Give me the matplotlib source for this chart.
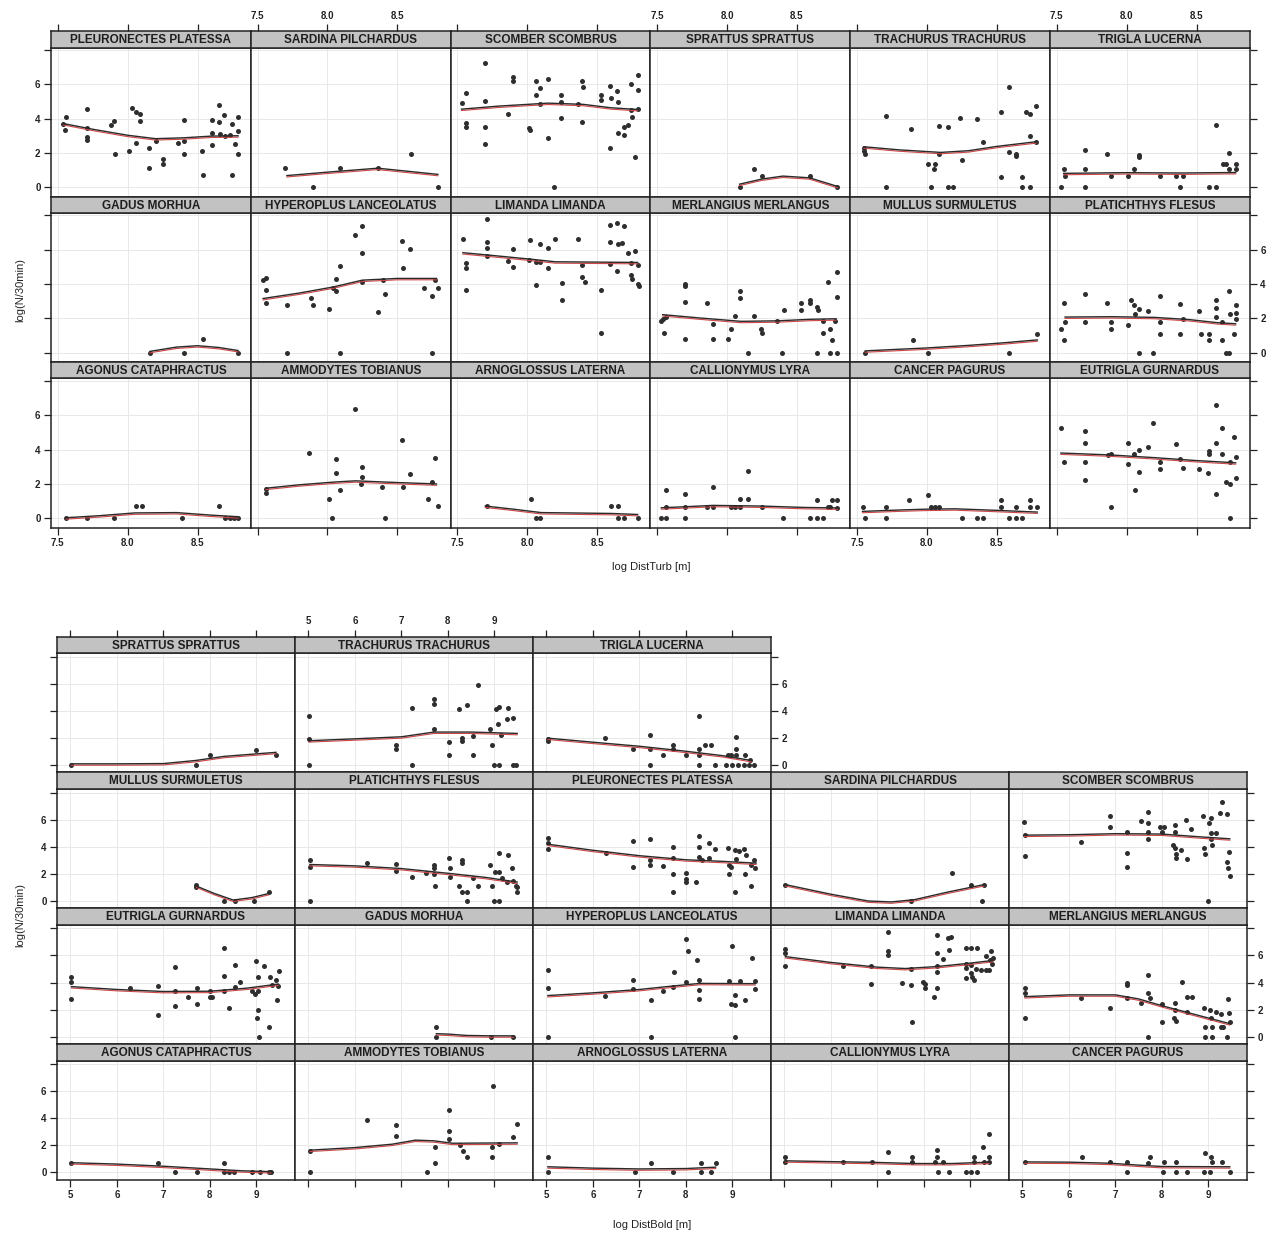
import numpy as np
import matplotlib
matplotlib.use('Agg')
import matplotlib.pyplot as plt
import matplotlib.transforms as mtransforms

plt.rcParams['font.family'] = ['Liberation Sans', 'DejaVu Sans']

# species names (strip labels)
names = {
    'ago': 'AGONUS CATAPHRACTUS', 'amm': 'AMMODYTES TOBIANUS', 'arn': 'ARNOGLOSSUS LATERNA',
    'cal': 'CALLIONYMUS LYRA', 'can': 'CANCER PAGURUS', 'eut': 'EUTRIGLA GURNARDUS',
    'gad': 'GADUS MORHUA', 'hyp': 'HYPEROPLUS LANCEOLATUS', 'lim': 'LIMANDA LIMANDA',
    'mer': 'MERLANGIUS MERLANGUS', 'mul': 'MULLUS SURMULETUS', 'pla': 'PLATICHTHYS FLESUS',
    'ple': 'PLEURONECTES PLATESSA', 'sar': 'SARDINA PILCHARDUS', 'sco': 'SCOMBER SCOMBRUS',
    'spr': 'SPRATTUS SPRATTUS', 'tra': 'TRACHURUS TRACHURUS', 'tri': 'TRIGLA LUCERNA',
}

# panel layouts, top row first
turb_rows = [['ple', 'sar', 'sco', 'spr', 'tra', 'tri'],
             ['gad', 'hyp', 'lim', 'mer', 'mul', 'pla'],
             ['ago', 'amm', 'arn', 'cal', 'can', 'eut']]
bold_rows = [['spr', 'tra', 'tri'],
             ['mul', 'pla', 'ple', 'sar', 'sco'],
             ['eut', 'gad', 'hyp', 'lim', 'mer'],
             ['ago', 'amm', 'arn', 'cal', 'can']]

turb_xticks = [7.5, 8.0, 8.5]
turb_xlabels = ['7.5', '8.0', '8.5']
bold_xticks = [5, 6, 7, 8, 9]
bold_xlabels = ['5', '6', '7', '8', '9']
yticks = [0, 2, 4, 6, 8]
ylabels = ['0', '2', '4', '6', '']

# ---------------- log DistTurb panels: (x, log N) points and smoother
turb_ple_pts = [(7.54,3.69),(7.56,4.08),(7.55,3.34),(7.71,4.56),(7.71,3.46),(7.71,2.95),(7.71,2.78),(7.88,3.65),(7.90,3.84),(7.91,1.94),(8.01,2.10),(8.03,4.62),(8.06,4.41),(8.06,2.56),(8.09,4.25),(8.09,3.83),(8.15,2.29),(8.15,1.13),(8.20,2.72),(8.25,1.63),(8.25,1.36),(8.36,2.56),(8.40,3.94),(8.40,2.68),(8.40,1.94),(8.53,2.10),(8.54,0.70),(8.60,2.48),(8.60,3.92),(8.60,3.18),(8.65,3.81),(8.65,4.80),(8.66,3.11),(8.69,4.21),(8.70,2.99),(8.73,3.03),(8.75,3.69),(8.75,0.70),(8.77,2.52),(8.79,4.08),(8.79,3.30),(8.79,1.94)]
turb_ple_fit = [(7.54,3.68),(7.75,3.35),(8.0,3.0),(8.2,2.8),(8.4,2.85),(8.6,2.95),(8.79,2.97)]
turb_sar_pts = [(7.70,1.11),(7.90,0.0),(8.09,1.13),(8.36,1.13),(8.60,1.94),(8.79,0.0)]
turb_sar_fit = [(7.71,0.65),(8.0,0.85),(8.36,1.08),(8.6,0.88),(8.79,0.72)]
turb_sco_pts = [(7.53,4.89),(7.56,5.51),(7.56,3.75),(7.56,3.53),(7.70,7.22),(7.70,5.03),(7.70,3.53),(7.70,2.49),(7.86,4.27),(7.90,6.45),(7.90,6.21),(8.01,3.44),(8.02,3.34),(8.06,6.16),(8.06,5.38),(8.09,5.79),(8.09,4.83),(8.15,6.31),(8.15,2.87),(8.19,0.0),(8.24,5.36),(8.24,4.97),(8.24,4.04),(8.36,4.83),(8.39,6.16),(8.40,5.83),(8.39,3.81),(8.53,5.36),(8.53,5.09),(8.59,5.88),(8.60,5.19),(8.59,2.27),(8.64,5.61),(8.65,4.97),(8.65,3.15),(8.69,3.53),(8.69,3.03),(8.72,3.65),(8.74,6.02),(8.74,4.47),(8.75,4.08),(8.77,1.77),(8.79,6.52),(8.79,5.67),(8.79,4.54)]
turb_sco_fit = [(7.53,4.52),(7.8,4.7),(8.15,4.87),(8.4,4.8),(8.6,4.6),(8.79,4.5)]
turb_spr_pts = [(8.09,0.0),(8.19,1.07),(8.25,0.66),(8.59,0.66),(8.79,0.0)]
turb_spr_fit = [(8.09,0.15),(8.25,0.45),(8.4,0.62),(8.59,0.52),(8.79,0.02)]
turb_tra_pts = [(7.55,2.29),(7.56,1.94),(7.55,2.10),(7.71,4.16),(7.71,0.0),(7.89,3.40),(8.01,1.36),(8.06,1.36),(8.05,1.07),(8.03,0.0),(8.09,3.57),(8.09,1.94),(8.15,3.50),(8.15,0.0),(8.19,0.0),(8.24,4.04),(8.25,1.59),(8.36,4.0),(8.40,2.62),(8.53,4.37),(8.53,0.62),(8.59,5.86),(8.59,2.08),(8.64,1.94),(8.64,1.80),(8.68,0.62),(8.68,0.0),(8.71,4.39),(8.74,4.25),(8.74,3.01),(8.74,0.0),(8.78,4.76),(8.78,2.62)]
turb_tra_fit = [(7.55,2.33),(7.8,2.15),(8.1,2.0),(8.3,2.1),(8.5,2.35),(8.78,2.62)]
turb_tri_pts = [(7.53,0.0),(7.55,1.07),(7.56,0.64),(7.70,2.14),(7.70,1.07),(7.70,0.0),(7.86,1.92),(7.89,0.64),(8.01,0.64),(8.05,1.07),(8.09,1.90),(8.09,1.75),(8.24,0.64),(8.35,0.64),(8.38,0.0),(8.40,0.64),(8.59,0.0),(8.64,0.0),(8.64,3.65),(8.69,1.36),(8.71,1.36),(8.73,2.0),(8.73,1.07),(8.78,1.36),(8.78,1.07)]
turb_tri_fit = [(7.55,0.78),(8.0,0.82),(8.4,0.80),(8.78,0.83)]
turb_gad_pts = [(8.16,0.0),(8.40,0.0),(8.54,0.78),(8.79,0.0)]
turb_gad_fit = [(8.16,0.05),(8.35,0.3),(8.5,0.38),(8.65,0.28),(8.79,0.1)]
turb_hyp_pts = [(7.54,4.26),(7.56,4.34),(7.56,3.63),(7.56,2.89),(7.71,2.77),(7.71,0.0),(7.88,3.16),(7.90,2.77),(8.01,2.54),(8.04,3.75),(8.06,3.61),(8.06,4.30),(8.09,5.08),(8.09,0.0),(8.20,6.88),(8.25,7.38),(8.25,5.82),(8.25,4.14),(8.36,2.40),(8.40,4.26),(8.41,3.44),(8.53,6.48),(8.54,4.92),(8.59,6.02),(8.69,3.75),(8.75,3.28),(8.75,0.0),(8.77,4.26),(8.79,3.75)]
turb_hyp_fit = [(7.54,3.13),(7.8,3.45),(8.04,3.8),(8.25,4.2),(8.5,4.3),(8.78,4.3)]
turb_lim_pts = [(7.54,6.60),(7.56,5.23),(7.56,4.92),(7.56,3.67),(7.71,7.81),(7.71,6.45),(7.71,6.09),(7.71,5.66),(7.86,5.37),(7.90,6.02),(7.90,4.98),(8.01,5.39),(8.02,6.54),(8.06,5.27),(8.06,3.95),(8.09,6.35),(8.09,5.27),(8.15,6.09),(8.15,4.92),(8.20,6.60),(8.25,4.06),(8.25,3.09),(8.36,6.60),(8.39,5.12),(8.39,4.41),(8.41,4.14),(8.53,3.67),(8.53,1.17),(8.59,7.46),(8.59,6.45),(8.59,5.18),(8.64,7.56),(8.64,4.79),(8.65,6.31),(8.69,7.36),(8.68,6.39),(8.72,5.82),(8.74,5.21),(8.74,4.53),(8.75,4.30),(8.77,5.90),(8.79,5.12),(8.79,4.0),(8.80,3.91)]
turb_lim_fit = [(7.54,5.8),(7.8,5.6),(8.05,5.4),(8.2,5.27),(8.5,5.25),(8.79,5.23)]
turb_mer_pts = [(7.53,1.84),(7.54,1.99),(7.56,2.09),(7.55,1.17),(7.70,4.0),(7.70,3.87),(7.70,2.97),(7.70,0.78),(7.86,2.89),(7.90,1.66),(7.90,0.78),(8.01,0.78),(8.03,1.41),(8.06,2.15),(8.09,3.61),(8.09,3.18),(8.15,0.0),(8.19,2.15),(8.24,1.41),(8.25,1.13),(8.36,1.86),(8.39,0.0),(8.41,2.48),(8.53,2.87),(8.53,2.50),(8.59,3.07),(8.59,2.89),(8.64,2.64),(8.65,2.50),(8.64,0.0),(8.69,1.86),(8.69,1.13),(8.72,4.14),(8.74,1.41),(8.75,0.74),(8.74,0.0),(8.77,1.86),(8.79,4.69),(8.79,3.22),(8.79,0.0)]
turb_mer_fit = [(7.54,2.19),(7.8,2.0),(8.1,1.8),(8.36,1.83),(8.6,1.92),(8.78,1.95)]
turb_mul_pts = [(7.56,0.0),(7.90,0.72),(8.01,0.0),(8.59,0.0),(8.79,1.11)]
turb_mul_fit = [(7.56,0.08),(8.0,0.25),(8.3,0.4),(8.55,0.55),(8.79,0.72)]
turb_pla_pts = [(7.53,1.37),(7.55,2.89),(7.55,0.72),(7.56,1.80),(7.70,3.42),(7.70,1.80),(7.86,2.89),(7.89,1.80),(7.89,1.37),(8.01,1.60),(8.03,3.09),(8.05,2.77),(8.06,2.25),(8.09,2.54),(8.09,0.0),(8.15,2.44),(8.19,0.0),(8.24,3.28),(8.24,1.80),(8.24,1.11),(8.38,2.83),(8.38,1.11),(8.40,1.95),(8.52,2.44),(8.53,1.11),(8.59,1.11),(8.59,0.72),(8.64,3.09),(8.64,2.60),(8.64,2.11),(8.68,1.80),(8.68,0.72),(8.71,0.0),(8.73,0.0),(8.73,3.57),(8.74,2.25),(8.77,1.11),(8.78,2.77),(8.78,2.34),(8.78,1.95)]
turb_pla_fit = [(7.56,2.05),(7.9,2.07),(8.2,2.03),(8.45,1.9),(8.65,1.72),(8.78,1.66)]
turb_ago_pts = [(7.56,0.0),(7.71,0.0),(7.90,0.0),(8.06,0.72),(8.10,0.72),(8.39,0.0),(8.65,0.72),(8.70,0.0),(8.73,0.0),(8.76,0.0),(8.79,0.0)]
turb_ago_fit = [(7.56,0.0),(7.8,0.12),(8.05,0.28),(8.35,0.3),(8.6,0.15),(8.79,0.06)]
turb_amm_pts = [(7.56,1.68),(7.56,1.45),(7.87,3.81),(8.01,1.10),(8.03,0.0),(8.06,3.43),(8.06,2.61),(8.09,1.65),(8.20,6.37),(8.25,3.0),(8.25,2.42),(8.24,1.97),(8.39,1.84),(8.41,0.0),(8.53,4.55),(8.54,1.84),(8.59,2.55),(8.72,1.10),(8.75,2.11),(8.77,3.52),(8.79,0.72)]
turb_amm_fit = [(7.56,1.72),(7.8,1.92),(8.05,2.08),(8.2,2.15),(8.5,2.05),(8.78,1.97)]
turb_arn_pts = [(7.71,0.72),(8.03,1.10),(8.06,0.0),(8.09,0.0),(8.60,0.72),(8.65,0.72),(8.65,0.0),(8.69,0.0),(8.79,0.0)]
turb_arn_fit = [(7.7,0.68),(7.9,0.5),(8.1,0.3),(8.4,0.27),(8.6,0.25),(8.79,0.19)]
turb_cal_pts = [(7.53,0.0),(7.56,0.0),(7.56,0.68),(7.56,1.63),(7.70,1.39),(7.70,0.68),(7.70,0.0),(7.86,0.68),(7.90,0.68),(7.90,1.82),(8.03,0.68),(8.06,0.68),(8.09,0.68),(8.09,1.10),(8.15,2.75),(8.15,1.10),(8.25,0.68),(8.40,0.0),(8.59,0.0),(8.64,1.06),(8.64,0.0),(8.69,0.0),(8.72,0.68),(8.74,0.68),(8.75,1.06),(8.79,1.06),(8.79,0.62)]
turb_cal_fit = [(7.53,0.58),(7.75,0.66),(7.9,0.72),(8.25,0.68),(8.55,0.6),(8.79,0.57)]
turb_can_pts = [(7.54,0.66),(7.56,0.0),(7.71,0.66),(7.71,0.0),(7.87,1.06),(8.01,1.35),(8.03,0.66),(8.06,0.66),(8.09,0.66),(8.25,0.0),(8.36,0.0),(8.40,0.0),(8.53,0.66),(8.53,1.06),(8.59,0.0),(8.64,0.66),(8.64,0.0),(8.68,0.0),(8.74,1.06),(8.74,0.66),(8.79,0.66)]
turb_can_fit = [(7.54,0.37),(7.8,0.45),(8.0,0.5),(8.2,0.52),(8.5,0.43),(8.79,0.33)]
turb_eut_pts = [(7.53,5.23),(7.55,3.29),(7.70,5.11),(7.70,4.39),(7.70,3.29),(7.70,2.21),(7.87,3.68),(7.89,3.77),(7.89,0.68),(8.01,4.39),(8.01,3.15),(8.05,3.72),(8.06,1.65),(8.09,4.0),(8.09,2.71),(8.15,4.16),(8.19,5.57),(8.24,3.29),(8.24,2.85),(8.35,4.35),(8.38,3.44),(8.40,2.94),(8.52,2.86),(8.59,3.91),(8.59,3.72),(8.58,2.61),(8.64,6.58),(8.64,4.39),(8.64,1.39),(8.68,5.23),(8.68,3.72),(8.71,2.09),(8.74,1.97),(8.74,3.29),(8.74,0.0),(8.77,4.74),(8.78,3.58),(8.78,2.36)]
turb_eut_fit = [(7.53,3.77),(7.88,3.66),(8.2,3.5),(8.5,3.33),(8.78,3.2)]

# ---------------- log DistBold panels
bold_spr_pts = [(5.02,0.0),(7.71,0.0),(8.0,0.73),(8.99,1.10),(9.42,0.73)]
bold_spr_fit = [(5.02,0.05),(6.0,0.05),(7.0,0.07),(7.7,0.3),(8.3,0.6),(9.42,0.9)]
bold_tra_pts = [(5.01,3.63),(5.01,1.95),(5.01,0.0),(6.88,1.51),(6.88,1.15),(7.22,4.24),(7.22,0.0),(7.71,4.85),(7.71,4.49),(7.71,2.68),(8.03,1.68),(8.03,0.73),(8.24,4.15),(8.30,2.0),(8.30,1.80),(8.40,4.44),(8.53,2.12),(8.53,0.73),(8.64,5.90),(8.90,2.68),(8.94,1.46),(8.99,0.0),(9.10,0.0),(9.04,4.15),(9.10,4.32),(9.07,3.02),(9.15,2.24),(9.28,3.41),(9.30,4.20),(9.41,3.51),(9.41,0.0),(9.46,0.0)]
bold_tra_fit = [(5.01,1.76),(6.0,1.9),(7.0,2.05),(7.7,2.4),(8.5,2.4),(9.49,2.3)]
bold_tri_pts = [(5.03,1.95),(5.03,1.80),(6.26,2.0),(6.87,1.15),(7.22,2.20),(7.22,1.15),(7.22,0.0),(7.51,0.73),(7.72,1.46),(7.72,1.15),(8.0,0.73),(8.29,3.63),(8.29,1.15),(8.29,0.73),(8.29,0.0),(8.42,1.46),(8.53,1.46),(8.63,0.0),(8.90,0.73),(8.97,0.73),(9.08,2.05),(9.08,1.15),(9.08,0.73),(8.87,0.0),(9.0,0.0),(9.12,0.0),(9.24,0.0),(9.35,0.0),(9.27,0.73),(9.38,0.34),(9.46,0.0)]
bold_tri_fit = [(5.03,1.95),(6.0,1.65),(7.0,1.35),(8.0,0.98),(8.8,0.65),(9.4,0.3)]
bold_mul_pts = [(7.71,1.17),(7.71,1.0),(8.30,0.0),(8.53,0.0),(8.94,0.0),(9.26,0.63)]
bold_mul_fit = [(7.71,1.05),(8.1,0.5),(8.5,0.02),(8.9,0.2),(9.26,0.5)]
bold_pla_pts = [(5.03,3.0),(5.03,2.51),(5.03,0.0),(6.26,2.83),(6.88,2.71),(6.88,2.20),(7.22,1.78),(7.52,2.02),(7.71,2.63),(7.71,2.39),(7.71,1.95),(7.73,1.12),(8.03,3.17),(8.05,2.39),(8.05,1.78),(8.24,1.12),(8.30,3.0),(8.30,2.76),(8.30,0.63),(8.40,0.0),(8.42,0.63),(8.53,1.71),(8.64,1.12),(8.90,2.68),(8.94,1.12),(8.99,0.0),(9.10,0.0),(9.02,2.10),(9.10,2.15),(9.10,3.56),(9.17,1.71),(9.28,1.41),(9.30,3.37),(9.38,2.39),(9.41,1.46),(9.47,1.12),(9.49,0.63),(9.49,1.05)]
bold_pla_fit = [(5.03,2.65),(6.0,2.55),(7.0,2.35),(8.0,2.0),(8.8,1.7),(9.49,1.35)]
bold_ple_pts = [(5.03,4.63),(5.03,4.29),(5.03,3.80),(6.28,3.56),(6.87,4.39),(6.87,2.51),(7.22,4.54),(7.22,3.0),(7.22,2.63),(7.51,2.59),(7.72,3.98),(7.72,3.17),(7.72,1.95),(7.72,0.63),(8.0,2.02),(8.0,1.61),(8.0,1.41),(8.21,1.37),(8.29,4.76),(8.29,3.98),(8.29,3.24),(8.34,3.0),(8.50,4.29),(8.50,3.17),(8.63,3.85),(8.90,3.90),(8.93,2.63),(8.93,1.95),(8.98,2.51),(9.06,3.73),(9.06,0.63),(9.08,3.12),(9.14,3.66),(9.25,3.85),(9.27,1.95),(9.30,3.37),(9.40,1.12),(9.40,2.63),(9.46,3.0),(9.48,2.39)]
bold_ple_fit = [(5.03,4.15),(6.0,3.7),(7.0,3.3),(8.0,3.0),(8.8,2.88),(9.51,2.75)]
bold_sar_pts = [(5.02,1.16),(7.72,0.0),(8.61,2.02),(9.01,1.16),(9.24,0.0),(9.29,1.16)]
bold_sar_fit = [(5.02,1.16),(6.0,0.45),(6.8,-0.05),(7.3,-0.12),(7.8,0.05),(8.5,0.6),(9.29,1.16)]
bold_sco_pts = [(5.04,5.85),(5.05,4.86),(5.05,3.33),(6.26,4.35),(6.88,6.27),(6.88,5.43),(7.24,5.09),(7.24,3.51),(7.24,2.52),(7.54,5.93),(7.70,6.59),(7.70,5.78),(7.71,5.11),(7.70,4.57),(7.96,5.43),(8.0,5.06),(8.05,5.43),(8.29,5.60),(8.29,5.06),(8.23,4.12),(8.29,3.88),(8.31,3.46),(8.31,3.14),(8.41,3.75),(8.52,5.98),(8.55,3.09),(8.62,5.28),(8.89,6.27),(8.91,3.88),(8.93,3.43),(8.99,0.0),(9.01,5.73),(9.05,6.10),(9.05,4.99),(9.05,4.57),(9.07,4.12),(9.16,5.04),(9.29,7.33),(9.24,6.52),(9.39,6.40),(9.45,3.63),(9.41,2.89),(9.43,2.40),(9.46,1.83)]
bold_sco_fit = [(5.04,4.82),(6.0,4.85),(7.0,4.93),(8.0,4.9),(8.8,4.7),(9.46,4.55)]
bold_eut_pts = [(5.02,4.44),(5.02,4.02),(5.02,2.76),(6.27,3.61),(6.88,3.71),(6.88,1.63),(7.25,5.17),(7.25,3.37),(7.25,2.24),(7.53,2.93),(7.72,3.59),(7.72,2.44),(8.0,3.37),(8.0,2.93),(8.05,2.93),(8.30,6.59),(8.30,4.51),(8.30,3.34),(8.42,2.12),(8.53,5.32),(8.53,3.66),(8.64,4.02),(8.91,3.37),(8.96,3.17),(8.99,5.61),(9.04,4.39),(9.04,3.37),(9.04,1.95),(9.02,1.34),(9.06,0.0),(9.17,5.24),(9.26,0.73),(9.29,4.44),(9.34,3.78),(9.42,4.15),(9.47,3.71),(9.49,4.83),(9.44,2.68)]
bold_eut_fit = [(5.02,3.66),(6.0,3.45),(7.0,3.3),(8.0,3.32),(8.8,3.55),(9.47,3.85)]
bold_gad_pts = [(7.75,0.73),(7.75,0.0),(8.93,0.0),(9.41,0.0)]
bold_gad_fit = [(7.75,0.18),(8.0,0.15),(8.4,0.05),(8.9,0.02),(9.41,0.02)]
bold_hyp_pts = [(5.03,4.93),(5.03,3.59),(5.03,0.0),(6.26,3.0),(6.87,4.15),(6.87,3.54),(7.24,2.68),(7.24,0.0),(7.51,3.34),(7.75,4.76),(7.72,3.66),(8.0,7.20),(8.04,6.34),(8.0,4.02),(8.23,5.66),(8.29,4.15),(8.29,3.46),(8.29,2.80),(8.93,4.10),(8.98,2.44),(9.0,6.71),(9.06,3.10),(9.06,2.32),(9.06,0.0),(9.17,4.10),(9.27,2.68),(9.43,5.85),(9.49,4.10),(9.49,3.54)]
bold_hyp_fit = [(5.03,3.0),(6.0,3.2),(7.0,3.45),(7.7,3.7),(8.3,3.9),(9.49,3.88)]
bold_lim_pts = [(5.02,6.47),(5.02,6.22),(5.02,5.19),(6.26,5.23),(6.86,5.19),(6.86,3.88),(7.22,7.73),(7.22,6.30),(7.22,6.05),(7.53,4.0),(7.72,4.99),(7.72,3.83),(7.74,1.11),(7.99,4.07),(8.02,3.90),(8.02,3.58),(8.22,2.96),(8.29,7.53),(8.29,6.22),(8.29,5.23),(8.29,4.81),(8.29,3.58),(8.40,5.73),(8.51,7.28),(8.58,7.36),(8.53,6.37),(8.91,6.54),(9.01,6.54),(9.15,6.54),(8.90,5.38),(8.90,5.06),(8.91,4.32),(9.01,5.31),(9.01,4.69),(9.04,4.40),(9.08,4.20),(9.11,4.99),(9.22,4.89),(9.33,5.93),(9.34,4.89),(9.40,4.89),(9.42,5.68),(9.45,6.30),(9.49,5.80),(9.47,5.38)]
bold_lim_fit = [(5.02,5.88),(6.0,5.45),(7.0,5.1),(7.6,5.0),(8.3,5.15),(9.0,5.4),(9.49,5.6)]
bold_mer_pts = [(5.05,3.58),(5.05,3.21),(5.05,1.41),(6.26,2.89),(6.88,2.10),(7.24,4.0),(7.24,3.83),(7.24,2.89),(7.54,2.47),(7.70,4.57),(7.70,3.21),(7.74,2.84),(7.71,0.0),(8.01,2.40),(8.0,1.11),(8.29,2.47),(8.29,1.98),(8.25,1.36),(8.31,1.16),(8.44,4.07),(8.55,2.91),(8.64,2.91),(8.55,1.85),(8.91,2.10),(8.93,0.74),(8.93,0.0),(9.04,1.98),(9.06,1.36),(9.07,0.74),(9.07,0.0),(9.16,1.85),(9.26,1.65),(9.26,0.74),(9.31,0.74),(9.41,0.0),(9.43,2.77),(9.45,1.73),(9.46,1.11)]
bold_mer_fit = [(5.05,2.92),(6.0,3.05),(7.0,3.05),(7.5,2.75),(8.0,2.25),(8.6,1.7),(9.46,0.92)]
bold_ago_pts = [(5.02,0.68),(6.88,0.68),(7.25,0.0),(7.72,0.0),(8.30,0.68),(8.30,0.0),(8.40,0.0),(8.51,0.0),(8.91,0.0),(9.07,0.0),(9.26,0.0),(9.31,0.0)]
bold_ago_fit = [(5.02,0.68),(6.0,0.58),(7.0,0.42),(8.0,0.22),(8.7,0.08),(9.31,0.02)]
bold_amm_pts = [(5.03,1.61),(5.03,0.0),(6.26,3.85),(6.88,3.49),(6.88,2.68),(7.54,0.0),(7.73,1.85),(7.73,0.68),(8.03,4.59),(8.03,3.07),(8.03,2.44),(8.26,2.02),(8.32,1.61),(8.40,1.12),(8.94,1.85),(8.94,1.12),(8.98,6.41),(9.10,2.10),(9.41,2.63),(9.49,3.56)]
bold_amm_fit = [(5.03,1.61),(6.0,1.8),(6.8,2.05),(7.3,2.35),(7.7,2.3),(8.1,2.12),(9.49,2.15)]
bold_arn_pts = [(5.03,1.12),(5.03,0.0),(6.90,0.0),(7.25,0.68),(7.72,0.0),(8.32,0.68),(8.32,0.0),(8.53,0.0),(8.64,0.68)]
bold_arn_fit = [(5.03,0.38),(6.0,0.28),(7.0,0.22),(8.0,0.25),(8.64,0.35)]
bold_cal_pts = [(5.02,1.14),(5.02,0.74),(6.26,0.74),(6.89,0.74),(7.22,1.48),(7.22,0.0),(7.74,1.14),(7.74,0.74),(8.29,1.68),(8.29,1.14),(8.24,0.74),(8.40,0.74),(8.31,0.0),(8.54,0.0),(8.90,0.0),(9.02,0.0),(9.15,0.0),(9.08,1.14),(9.08,0.74),(9.26,1.85),(9.29,0.74),(9.39,1.14),(9.39,0.74),(9.40,2.84)]
bold_cal_fit = [(5.02,0.82),(6.0,0.76),(7.0,0.7),(7.8,0.62),(8.6,0.62),(9.4,0.72)]
bold_can_pts = [(5.05,0.74),(6.27,1.14),(6.88,0.74),(7.25,0.74),(7.25,0.0),(7.75,1.14),(7.71,0.69),(8.04,0.74),(8.02,0.0),(8.31,0.74),(8.31,0.0),(8.55,0.0),(8.93,1.43),(9.06,1.14),(9.07,0.74),(8.91,0.0),(9.04,0.0),(9.29,0.74),(9.46,0.0)]
bold_can_fit = [(5.05,0.74),(6.0,0.72),(6.9,0.64),(7.5,0.5),(8.0,0.4),(9.46,0.38)]

turb_data = {k: (globals()['turb_%s_pts' % k], globals()['turb_%s_fit' % k]) for k in names}
bold_data = {k: (globals()['bold_%s_pts' % k], globals()['bold_%s_fit' % k]) for k in names}

W, H = 1277, 1235
fig = plt.figure(figsize=(W / 100, H / 100), dpi=100)
fig.patch.set_facecolor('white')

INK = '#222222'
TICKFS = 7


def px_axes(left, top, width, height, **kw):
    # axes placed by pixel box measured from top-left
    return fig.add_axes([left / W, 1 - (top + height) / H, width / W, height / H], **kw)


def style_spines(ax):
    for s in ax.spines.values():
        s.set_color(INK)
        s.set_linewidth(1.1)


def draw_lattice(rows, data, col0, colw, row0, strip_h, panel_h, xlim, ylim, xticks, xlabels):
    nrow = len(rows)
    up = mtransforms.ScaledTranslation(0, 0.5 / 100, fig.dpi_scale_trans)
    down = mtransforms.ScaledTranslation(0, -0.9 / 100, fig.dpi_scale_trans)
    for r, row in enumerate(rows):
        k = nrow - 1 - r
        for c, key in enumerate(row):
            left = col0 + c * colw
            top = row0 + r * (strip_h + panel_h)
            ax = px_axes(left, top + strip_h, colw, panel_h)
            sax = px_axes(left, top, colw, strip_h, sharex=ax)
            ax.set_xlim(xlim)
            ax.set_ylim(ylim)
            for xt in xticks:
                ax.axvline(xt, color='#e8e8e8', lw=0.7, zorder=0)
            for yt in yticks:
                ax.axhline(yt, color='#e8e8e8', lw=0.7, zorder=0)
            pts = np.array(data[key][0])
            fit = np.array(data[key][1])
            ax.plot(pts[:, 0], pts[:, 1], 'o', ms=3.6, color='#2e2e2e', mec='none', zorder=3)
            ax.plot(fit[:, 0], fit[:, 1], color='#d04545', lw=0.8, zorder=4,
                    transform=ax.transData + down)
            ax.plot(fit[:, 0], fit[:, 1], color='#2a2a2a', lw=1.0, zorder=5,
                    transform=ax.transData + up)

            is_top = r == 0
            is_bottom = r == nrow - 1
            is_left = c == 0
            is_right = c == len(row) - 1

            ax.set_xticks(xticks)
            ax.set_xticklabels(xlabels, fontweight='bold')
            ax.set_yticks(yticks)
            ax.set_yticklabels(ylabels, fontweight='bold')
            ax.tick_params(axis='both', direction='out', length=5, width=0.9, color=INK,
                           labelsize=TICKFS, labelcolor=INK, pad=2.5,
                           top=False, labeltop=False,
                           bottom=is_bottom, labelbottom=is_bottom and c % 2 == 0,
                           left=is_left, labelleft=is_left and k % 2 == 0,
                           right=is_right, labelright=is_right and k % 2 == 1)
            style_spines(ax)

            # strip
            sax.set_facecolor('#c2c2c2')
            sax.set_ylim(0, 1)
            sax.set_yticks([])
            sax.tick_params(axis='x', direction='out', length=5, width=0.9, color=INK,
                            labelsize=TICKFS, labelcolor=INK, pad=2.5,
                            bottom=False, labelbottom=False,
                            top=is_top, labeltop=is_top and c % 2 == 1)
            for lab in sax.get_xticklabels():
                lab.set_fontweight('bold')
            style_spines(sax)
            sax.text(0.5, 0.45, names[key], transform=sax.transAxes, ha='center', va='center',
                     fontsize=8.5, fontweight='bold', color='#1e1e1e')


# top lattice: distance to turbines
draw_lattice(turb_rows, turb_data, 51, 199.8, 31, 16.5, 149,
             (7.452, 8.881), (-0.54, 8.14), turb_xticks, turb_xlabels)
# bottom lattice: distance to boulders
draw_lattice(bold_rows, bold_data, 57, 238, 636.5, 16.7, 119.1,
             (4.71, 9.83), (-0.54, 8.27), bold_xticks, bold_xlabels)

fig.text(20 / W, 1 - 290 / H, 'log(N/30min)', rotation=90, ha='center', va='center',
         fontsize=8, color=INK)
fig.text(651 / W, 1 - 567 / H, 'log DistTurb [m]', ha='center', va='center',
         fontsize=8, color=INK)
fig.text(20 / W, 1 - 915 / H, 'log(N/30min)', rotation=90, ha='center', va='center',
         fontsize=8, color=INK)
fig.text(652 / W, 1 - 1225 / H, 'log DistBold [m]', ha='center', va='center',
         fontsize=8, color=INK)

fig.savefig('out.png', dpi=100, facecolor='white')
